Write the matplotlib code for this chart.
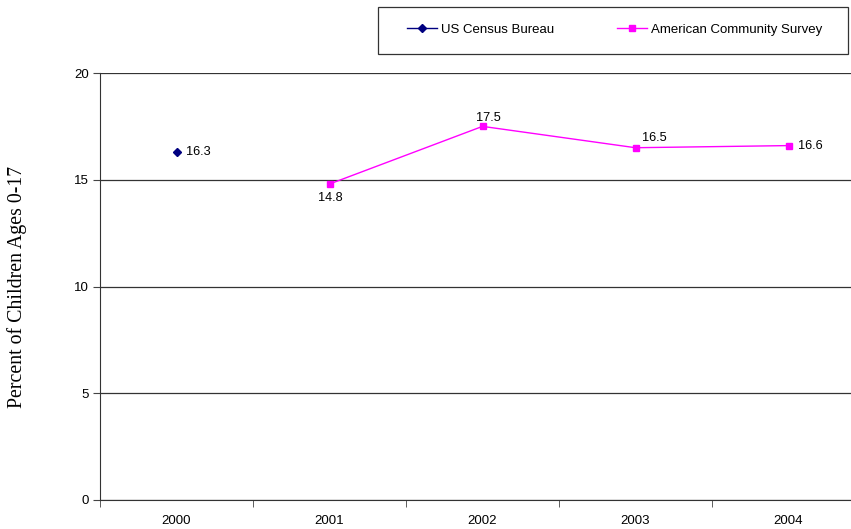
import matplotlib.pyplot as plt
from matplotlib.lines import Line2D
from matplotlib.patches import Rectangle
import numpy as np

years = ["2000", "2001", "2002", "2003", "2004"]
census_years = ["2000"]
census_vals = [16.3]
acs_years = ["2001", "2002", "2003", "2004"]
acs_vals = [14.8, 17.5, 16.5, 16.6]
yticks = [0, 5, 10, 15, 20]

plt.rcParams['font.family'] = ['Liberation Sans', 'DejaVu Sans']

fig = plt.figure(figsize=(8.51, 5.29), dpi=100)
# the plot area runs past the right edge of the picture, like the original
ax = fig.add_axes([100 / 851, 1 - 500 / 529, 765 / 851, 427 / 529])

x_of = {y: i for i, y in enumerate(years)}
cx = [x_of[y] for y in census_years]
ax_x = [x_of[y] for y in acs_years]

ax.plot(cx, census_vals, color='#000080', marker='D', markersize=4, lw=1, zorder=3)
ax.plot(ax_x, acs_vals, color='#ff00ff', marker='s', markersize=5, lw=1, zorder=3)

# data labels
offsets = {"2000": (7, 0, 'left', 'center'),
           "2001": (0.5, -6, 'center', 'top'),
           "2002": (4, 2, 'center', 'bottom'),
           "2003": (5, 3, 'left', 'bottom'),
           "2004": (7, 0, 'left', 'center')}
for xi, v, yr in zip(cx + ax_x, census_vals + acs_vals, census_years + acs_years):
    dx, dy, ha, va = offsets[yr]
    ax.annotate(f"{v:.1f}", (xi, v), xytext=(dx, dy), textcoords='offset points',
                ha=ha, va=va, fontsize=9.2)

ax.set_xlim(-0.5, 4.5)
ax.set_ylim(0, 20)
ax.set_yticks(yticks)
ax.set_yticklabels([str(t) for t in yticks], fontsize=9.5)
ax.set_xticks(range(len(years)))
ax.set_xticklabels(years, fontsize=9.5)
ax.set_xticks(np.arange(-0.5, 4.6, 1), minor=True)
ax.tick_params(axis='x', which='major', length=0, pad=11)
ax.tick_params(axis='x', which='minor', length=5, direction='out', color='#444444')
ax.tick_params(axis='y', length=5, direction='out', color='#444444', pad=3)

ax.grid(axis='y', color='#333333', lw=0.9)
ax.set_axisbelow(True)
for s in ['top', 'right']:
    ax.spines[s].set_visible(False)
ax.spines['left'].set_color('#333333')
ax.spines['bottom'].set_color('#333333')

fig.text(17 / 851, 1 - 287 / 529, "Percent of Children Ages 0-17", rotation=90,
         ha='center', va='center', fontsize=14.3, family=['Liberation Serif', 'DejaVu Serif'])

# legend box drawn by hand so it matches the original size
fig.patches.append(Rectangle((378 / 851, 1 - 54 / 529), 470 / 851, 47 / 529,
                             transform=fig.transFigure, fill=False,
                             edgecolor='#333333', lw=0.9))
handles = [Line2D([], [], color='#000080', marker='D', markersize=4, lw=1),
           Line2D([], [], color='#ff00ff', marker='s', markersize=5, lw=1)]
fig.legend(handles, ["US Census Bureau", "American Community Survey"],
           loc='center left', bbox_to_anchor=(407 / 851, 1 - 30 / 529),
           ncol=2, frameon=False, fontsize=9.5, borderpad=0, borderaxespad=0,
           handlelength=2.3, handletextpad=0.25, columnspacing=4.8)

fig.savefig("out.png", dpi=100)
